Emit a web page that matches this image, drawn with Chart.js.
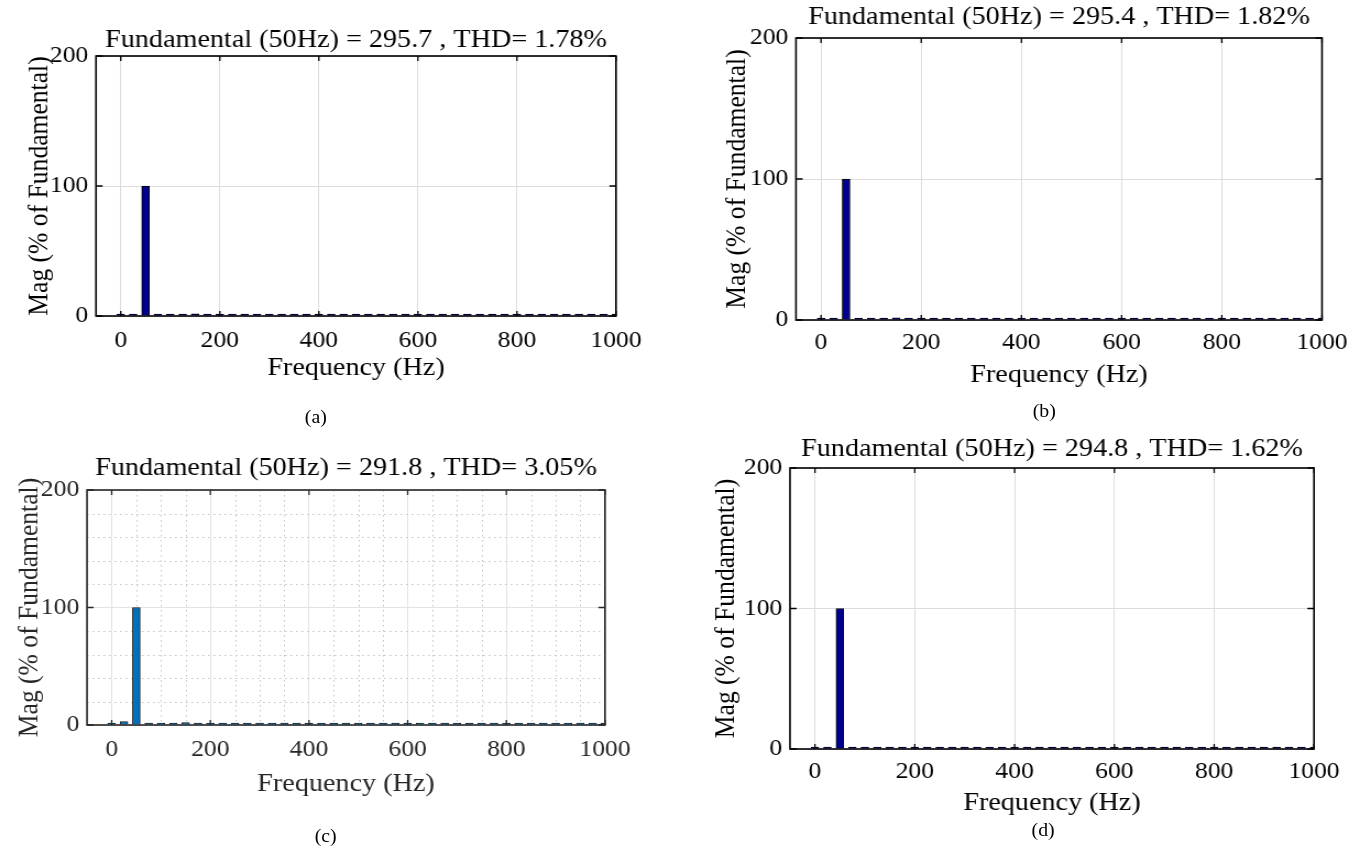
<!DOCTYPE html>
<html>
<head>
<meta charset="utf-8">
<script src="https://cdn.jsdelivr.net/npm/chart.js@4.4.1/dist/chart.umd.min.js"></script>
<style>
  html, body { margin: 0; padding: 0; background: #ffffff; }
  /* The figure is laid out on a 1236px-wide stage and widened to the 1360px page. */
  #stage { position: absolute; left: 0; top: 0; width: 1236px; height: 848px;
           transform-origin: 0 0; transform: scaleX(1.10032); }
  #stage canvas { position: absolute; left: 0; top: 0; }
  .cap { position: absolute; font-family: 'Liberation Serif', serif; font-size: 18px; color: #000;
         transform: translate(-50%, -50%); white-space: nowrap; }
</style>
</head>
<body>
<div id="stage">
  <canvas id="chartA" width="1236" height="848"></canvas>
  <canvas id="chartB" width="1236" height="848"></canvas>
  <canvas id="chartC" width="1236" height="848"></canvas>
  <canvas id="chartD" width="1236" height="848"></canvas>
  <div class="cap" style="left:287px; top:417px;">(a)</div>
  <div class="cap" style="left:949px; top:411px;">(b)</div>
  <div class="cap" style="left:296px; top:836px;">(c)</div>
  <div class="cap" style="left:948px; top:830px;">(d)</div>
</div>
<script>
// ---- spectrum data (harmonic magnitude, % of the 50 Hz fundamental) ----
const frequencyHz = [0, 25, 50, 75, 100, 125, 150, 175, 200, 225, 250, 275, 300, 325, 350, 375, 400,
  425, 450, 475, 500, 525, 550, 575, 600, 625, 650, 675, 700, 725, 750, 775, 800, 825, 850, 875, 900,
  925, 950, 975, 1000];

const magA = [0.2, 0.15, 100, 0.15, 0.2, 0.1, 1.6, 0.1, 0.15, 0.1, 0.5, 0.1, 0.12, 0.1, 0.45, 0.1, 0.12,
  0.08, 0.15, 0.08, 0.1, 0.08, 0.12, 0.08, 0.1, 0.08, 0.1, 0.07, 0.1, 0.07, 0.09, 0.07, 0.09, 0.06, 0.08,
  0.06, 0.08, 0.06, 0.07, 0.06, 0.07];

const magB = [0.2, 0.15, 100, 0.15, 0.2, 0.1, 1.6, 0.1, 0.15, 0.1, 0.4, 0.1, 0.12, 0.1, 0.3, 0.1, 0.12,
  0.08, 0.15, 0.08, 0.1, 0.08, 0.12, 0.08, 0.1, 0.08, 0.1, 0.07, 0.1, 0.07, 0.09, 0.07, 0.09, 0.06, 0.08,
  0.06, 0.08, 0.06, 0.07, 0.06, 0.07];

const magC = [0.3, 3.0, 100, 0.8, 0.9, 0.3, 2.1, 0.3, 0.5, 0.2, 0.6, 0.2, 0.3, 0.15, 0.4, 0.15, 0.2,
  0.12, 0.2, 0.1, 0.15, 0.1, 0.15, 0.1, 0.12, 0.1, 0.12, 0.08, 0.1, 0.08, 0.1, 0.08, 0.1, 0.07, 0.09,
  0.07, 0.09, 0.07, 0.08, 0.07, 0.08];

const magD = [0.2, 0.15, 100, 0.15, 0.2, 0.1, 1.2, 0.1, 0.15, 0.1, 0.3, 0.1, 0.12, 0.1, 0.3, 0.1, 0.12,
  0.08, 0.15, 0.08, 0.1, 0.08, 0.12, 0.08, 0.1, 0.08, 0.1, 0.07, 0.1, 0.07, 0.09, 0.07, 0.09, 0.06, 0.08,
  0.06, 0.08, 0.06, 0.07, 0.06, 0.07];

const titleA = 'Fundamental (50Hz) = 295.7 , THD= 1.78%';
const titleB = 'Fundamental (50Hz) = 295.4 , THD= 1.82%';
const titleC = 'Fundamental (50Hz) = 291.8 , THD= 3.05%';
const titleD = 'Fundamental (50Hz) = 294.8 , THD= 1.62%';

const xTicks = [0, 200, 400, 600, 800, 1000];
const yTicks = [0, 100, 200];
const xMinorTicks = [50, 100, 150, 250, 300, 350, 450, 500, 550, 650, 700, 750, 850, 900, 950];
const yMinorTicks = [20, 40, 60, 80, 120, 140, 160, 180];

// ---- drawing setup ----
const STAGE_W = 1236, STAGE_H = 848;
const STRETCH = 1360 / STAGE_W;
const FONT = "'Liberation Serif', 'Times New Roman', serif";
const TITLE_SIZE = 25.6, LABEL_SIZE = 25.6, TICK_SIZE = 23.3;

// Box, inward tick marks and optional dotted minor grid for each axes.
const axesFrame = {
  id: 'axesFrame',
  beforeDatasetsDraw(chart, args, opts) {
    if (!opts.minor) return;
    const { ctx, chartArea: a, scales: { x, y } } = chart;
    ctx.save();
    ctx.strokeStyle = opts.minorColor;
    ctx.lineWidth = 1;
    ctx.setLineDash([1.5, 3.5]);
    ctx.beginPath();
    xMinorTicks.forEach(v => { const px = Math.round(x.getPixelForValue(v)) + 0.5; ctx.moveTo(px, a.top); ctx.lineTo(px, a.bottom); });
    yMinorTicks.forEach(v => { const py = Math.round(y.getPixelForValue(v)) + 0.5; ctx.moveTo(a.left, py); ctx.lineTo(a.right, py); });
    ctx.stroke();
    ctx.restore();
  },
  afterDatasetsDraw(chart, args, opts) {
    const { ctx, chartArea: a, scales: { x, y } } = chart;
    ctx.save();
    ctx.strokeStyle = opts.color;
    ctx.lineWidth = 1.3;
    ctx.beginPath();
    xTicks.forEach(v => {
      const px = x.getPixelForValue(v);
      ctx.moveTo(px, a.bottom); ctx.lineTo(px, a.bottom - 5);
      ctx.moveTo(px, a.top); ctx.lineTo(px, a.top + 5);
    });
    yTicks.forEach(v => {
      const py = y.getPixelForValue(v);
      ctx.moveTo(a.left, py); ctx.lineTo(a.left + 6, py);
      ctx.moveTo(a.right, py); ctx.lineTo(a.right - 6, py);
    });
    ctx.stroke();
    ctx.lineWidth = 1.6;
    ctx.strokeRect(a.left, a.top, a.right - a.left, a.bottom - a.top);
    ctx.restore();
  }
};

function spectrumChart(id, mags, title, p) {
  const left = p.left / STRETCH, right = p.right / STRETCH;
  const yTitleX = p.yTitleX / STRETCH;
  const lhLabel = LABEL_SIZE * 1.2, lhTitle = TITLE_SIZE * 1.2;
  const padLeft = yTitleX - lhLabel / 2;
  const yWidth = left - padLeft;
  const xHeight = p.xTitleY + lhLabel / 2 - p.bottom;
  const tickFont = { family: FONT, size: TICK_SIZE };
  const labelFont = { family: FONT, size: LABEL_SIZE };

  return new Chart(document.getElementById(id), {
    type: 'bar',
    data: {
      datasets: [{
        data: frequencyHz.map((f, i) => ({ x: f, y: mags[i] })),
        backgroundColor: p.fill,
        borderColor: p.edge,
        borderWidth: 1,
        barThickness: 7,
        minBarLength: 2
      }]
    },
    options: {
      responsive: false,
      animation: false,
      devicePixelRatio: 1,
      layout: {
        padding: {
          left: padLeft,
          right: STAGE_W - right,
          top: p.titleY - lhTitle / 2,
          bottom: STAGE_H - p.bottom - xHeight
        }
      },
      plugins: {
        legend: { display: false },
        tooltip: { enabled: false },
        title: {
          display: true,
          text: title,
          fullSize: false,
          color: '#000',
          font: { family: FONT, size: TITLE_SIZE, weight: 'normal', lineHeight: 1.2 },
          padding: { top: 0, bottom: p.top - p.titleY - lhTitle / 2 }
        },
        axesFrame: { color: p.axis, minor: p.minor, minorColor: '#c4c4c4' }
      },
      scales: {
        x: {
          type: 'linear',
          min: -50,
          max: 1000,
          offset: false,
          afterBuildTicks: s => { s.ticks = xTicks.map(v => ({ value: v })); },
          afterFit: s => { s.height = xHeight; },
          grid: { color: p.grid, lineWidth: 1, drawTicks: false, offset: false },
          border: { display: false },
          ticks: { color: p.axis, font: tickFont, padding: p.tickPad, maxRotation: 0, autoSkip: false,
                   callback: v => String(v) },
          title: { display: true, text: 'Frequency (Hz)', color: p.axis, font: labelFont, padding: 0 }
        },
        y: {
          type: 'linear',
          min: 0,
          max: 200,
          afterBuildTicks: s => { s.ticks = yTicks.map(v => ({ value: v })); },
          afterFit: s => { s.width = yWidth; },
          grid: { color: p.grid, lineWidth: 1, drawTicks: false },
          border: { display: false },
          ticks: { color: p.axis, font: tickFont, padding: 7, callback: v => String(v) },
          title: { display: true, text: 'Mag (% of Fundamental)', color: p.axis, font: labelFont, padding: 0 }
        }
      }
    },
    plugins: [axesFrame]
  });
}

const navy = { fill: '#00008f', edge: '#000000', axis: '#000000', grid: '#dcdcdc', minor: false };

spectrumChart('chartA', magA, titleA,
  Object.assign({ left: 96, right: 616, top: 56, bottom: 316, titleY: 40, yTitleX: 40, xTitleY: 368, tickPad: 11 }, navy));
spectrumChart('chartB', magB, titleB,
  Object.assign({ left: 796, right: 1322, top: 38, bottom: 320, titleY: 17, yTitleX: 738, xTitleY: 375, tickPad: 9 }, navy));
spectrumChart('chartC', magC, titleC,
  { left: 87, right: 605, top: 490, bottom: 725, titleY: 468, yTitleX: 30, xTitleY: 784, tickPad: 11,
    fill: '#0072bd', edge: '#1a1a1a', axis: '#262626', grid: '#e3e3e3', minor: true });
spectrumChart('chartD', magD, titleD,
  Object.assign({ left: 790, right: 1314, top: 468, bottom: 749, titleY: 449, yTitleX: 726, xTitleY: 803, tickPad: 9 }, navy));
</script>
</body>
</html>
